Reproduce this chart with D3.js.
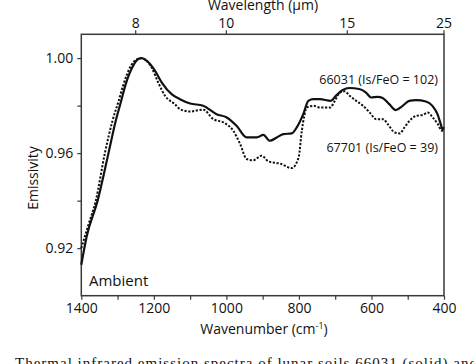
<!DOCTYPE html>
<html>
<head>
<meta charset="utf-8">
<script src="https://cdn.jsdelivr.net/npm/d3@7"></script>
<style>
  html, body { margin: 0; padding: 0; background: #fff; }
  svg { display: block; }
  text { font-family: "Open Sans", "Noto Sans", sans-serif; fill: #111; }
</style>
</head>
<body>
<svg id="chart" width="474" height="364"></svg>
<script>
// ---- data ----
const wn66031 = [1400, 1385, 1355, 1325, 1305, 1290, 1279, 1257, 1243, 1233, 1220, 1197, 1178, 1151, 1128, 1100, 1064, 1027, 999, 972, 944, 916, 898, 880, 861, 843, 820, 806, 788, 774, 760, 742, 712, 698, 680, 661, 634, 615, 601, 583, 569, 551, 533, 514, 496, 477, 450, 432, 418, 409, 404, 401];
const em66031 = [0.913, 0.925, 0.940, 0.960, 0.9736, 0.982, 0.9883, 0.9968, 0.9996, 1.000, 0.9989, 0.9947, 0.9897, 0.9848, 0.9827, 0.9809, 0.9799, 0.9764, 0.975, 0.9715, 0.9666, 0.9666, 0.9677, 0.9652, 0.9666, 0.968, 0.9683, 0.9708, 0.9764, 0.982, 0.9827, 0.9827, 0.982, 0.9841, 0.9865, 0.9874, 0.987, 0.9855, 0.9834, 0.9837, 0.9832, 0.9806, 0.9781, 0.9799, 0.982, 0.9823, 0.9817, 0.9799, 0.9764, 0.9722, 0.970, 0.9705];

const wn67701 = [1400, 1380, 1360, 1335, 1314, 1297, 1285, 1263, 1246, 1233, 1221, 1206, 1188, 1169, 1142, 1128, 1100, 1064, 1036, 1008, 981, 962, 944, 926, 903, 884, 852, 820, 801, 792, 778, 760, 742, 714, 701, 687, 674, 660, 642, 623, 605, 587, 568, 555, 536, 522, 509, 495, 477, 458, 445, 431, 417, 405, 401];
const em67701 = [0.920, 0.930, 0.940, 0.960, 0.9736, 0.982, 0.9883, 0.9968, 0.9995, 1.000, 0.999, 0.996, 0.9897, 0.9841, 0.9806, 0.9785, 0.9775, 0.9783, 0.9743, 0.9729, 0.9694, 0.9638, 0.9575, 0.957, 0.9589, 0.9565, 0.9556, 0.9537, 0.9581, 0.9694, 0.9792, 0.9799, 0.9792, 0.9792, 0.982, 0.9855, 0.986, 0.9841, 0.982, 0.9799, 0.9771, 0.9743, 0.9743, 0.9722, 0.9687, 0.9683, 0.9708, 0.9736, 0.9757, 0.9761, 0.9771, 0.975, 0.9722, 0.9694, 0.971];

const xMajorTicks = [1400, 1200, 1000, 800, 600, 400];
const xMinorTicks = [1300, 1100, 900, 700, 500];
const yMajorTicks = [0.92, 0.96, 1.00];
const yMinorTicks = [0.94, 0.98];
const wavelengthTicks = [8, 10, 15, 25];

const label66031 = "66031 (Is/FeO = 102)";
const label67701 = "67701 (Is/FeO = 39)";

// ---- layout ----
const svg = d3.select("#chart");
const mLeft = 81.3, mRight = 444, mTop = 34.3, mBottom = 295.7;

const x = d3.scaleLinear().domain([1400, 400]).range([mLeft, mRight]);
const y = d3.scaleLinear().domain([0.90, 1.01]).range([mBottom, mTop]);

const frameColor = "#3a3a3a";

// frame
svg.append("rect")
  .attr("x", mLeft).attr("y", mTop)
  .attr("width", mRight - mLeft).attr("height", mBottom - mTop)
  .attr("fill", "none").attr("stroke", frameColor).attr("stroke-width", 1.5);

// bottom axis
const xAxis = d3.axisBottom(x).tickValues(xMajorTicks).tickSize(4).tickPadding(3).tickFormat(d3.format("d"));
const gx = svg.append("g").attr("transform", `translate(0,${mBottom})`).call(xAxis);
gx.select(".domain").remove();
gx.selectAll(".tick line").attr("stroke", frameColor).attr("stroke-width", 1.2);
gx.selectAll("text").style("font-size", "14px").attr("fill", "#111");
const gxm = svg.append("g").attr("transform", `translate(0,${mBottom})`)
  .call(d3.axisBottom(x).tickValues(xMinorTicks).tickSize(4).tickFormat(""));
gxm.select(".domain").remove();
gxm.selectAll(".tick line").attr("stroke", frameColor).attr("stroke-width", 1.2);

// left axis
const yAxis = d3.axisLeft(y).tickValues(yMajorTicks).tickSize(4).tickPadding(4).tickFormat(d3.format(".2f"));
const gy = svg.append("g").attr("transform", `translate(${mLeft},0)`).call(yAxis);
gy.select(".domain").remove();
gy.selectAll(".tick line").attr("stroke", frameColor).attr("stroke-width", 1.2);
gy.selectAll("text").style("font-size", "14px").attr("fill", "#111");
const gym = svg.append("g").attr("transform", `translate(${mLeft},0)`)
  .call(d3.axisLeft(y).tickValues(yMinorTicks).tickSize(4).tickFormat(""));
gym.select(".domain").remove();
gym.selectAll(".tick line").attr("stroke", frameColor).attr("stroke-width", 1.2);

// top axis (wavelength in um -> wavenumber = 10000 / lambda)
const gt = svg.append("g").attr("transform", `translate(0,${mTop})`);
gt.selectAll("line.tt").data(wavelengthTicks).join("line")
  .attr("x1", d => x(10000 / d)).attr("x2", d => x(10000 / d))
  .attr("y1", 0).attr("y2", -4)
  .attr("stroke", frameColor).attr("stroke-width", 1.2);
gt.selectAll("text.tl").data(wavelengthTicks).join("text")
  .attr("x", d => x(10000 / d)).attr("y", -6)
  .attr("text-anchor", "middle").style("font-size", "14px")
  .text(d => d);

// axis titles
svg.append("text").attr("x", 263).attr("y", 10).attr("text-anchor", "middle")
  .style("font-size", "14px").text("Wavelength (\u03BCm)");

const xt = svg.append("text").attr("x", 264).attr("y", 334).attr("text-anchor", "middle")
  .style("font-size", "14px");
xt.append("tspan").text("Wavenumber (cm");
xt.append("tspan").attr("dy", -5).style("font-size", "9px").text("-1");
xt.append("tspan").attr("dy", 5).text(")");

svg.append("text").attr("transform", "translate(38,178) rotate(-90)")
  .attr("text-anchor", "middle").style("font-size", "14px").text("Emissivity");

// lines
const line = d3.line().x(d => x(d[0])).y(d => y(d[1])).curve(d3.curveMonotoneX);
const s1 = wn66031.map((w, i) => [w, em66031[i]]);
const s2 = wn67701.map((w, i) => [w, em67701[i]]);

svg.append("path").datum(s2).attr("d", line)
  .attr("fill", "none").attr("stroke", "#111").attr("stroke-width", 2)
  .attr("stroke-dasharray", "2.2,1.6");
svg.append("path").datum(s1).attr("d", line)
  .attr("fill", "none").attr("stroke", "#111").attr("stroke-width", 2.2);

// annotations
svg.append("text").attr("x", 438).attr("y", 84).attr("text-anchor", "end")
  .style("font-size", "12.5px").text(label66031);
svg.append("text").attr("x", 438).attr("y", 152).attr("text-anchor", "end")
  .style("font-size", "12.5px").text(label67701);
svg.append("text").attr("x", 89).attr("y", 286)
  .style("font-size", "15px").text("Ambient");

// caption (cut off at the bottom)
svg.append("text").attr("x", 1).attr("y", 368).style("font-size", "15px")
  .style("font-family", "'Liberation Serif', serif").text(".");
svg.append("text").attr("x", 15).attr("y", 368).style("font-size", "15px")
  .style("font-family", "'Liberation Serif', serif")
  .attr("textLength", 462).attr("lengthAdjust", "spacing")
  .text("Thermal infrared emission spectra of lunar soils 66031 (solid) and");
</script>
</body>
</html>
